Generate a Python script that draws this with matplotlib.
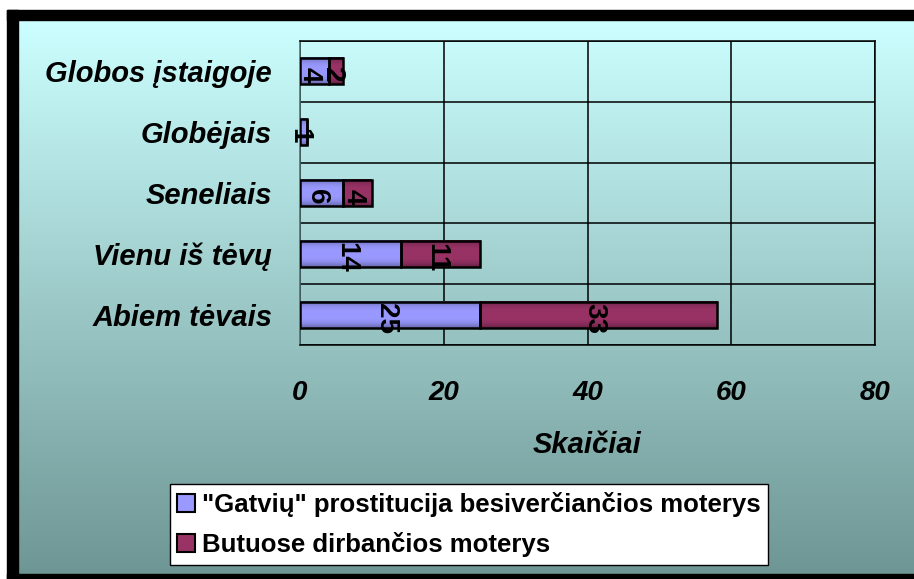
import numpy as np
import matplotlib
matplotlib.use("Agg")
import matplotlib.pyplot as plt
from matplotlib.colors import to_rgb
from matplotlib.patches import Rectangle

plt.rcParams["font.family"] = ["Liberation Sans", "DejaVu Sans"]

categories = ["Abiem tėvais", "Vienu iš tėvų", "Seneliais", "Globėjais", "Globos įstaigoje"]
street = [25, 14, 6, 1, 4]
brothel = [33, 11, 4, 0, 2]
series_names = ['"Gatvių" prostitucija besiverčiančios moterys', "Butuose dirbančios moterys"]
xticks = [0, 20, 40, 60, 80]
xlabel = "Skaičiai"

BLUE, MAROON = "#9999FF", "#993366"
TOP, BOTTOM = np.array([204, 255, 255]) / 255, np.array([110, 150, 148]) / 255
FS = 20

W, H = 914, 579
fig = plt.figure(figsize=(W / 100, H / 100), dpi=100)
fig.patch.set_facecolor("white")

# gradient background inside the black frame
bg = fig.add_axes([18 / W, (H - 574) / H, 1 - 18 / W, (574 - 20) / H])
t = np.linspace(0, 1, 256)[:, None, None]
grad = TOP * (1 - t) + BOTTOM * t
bg.imshow(np.repeat(grad, 2, axis=1), aspect="auto", extent=[0, 1, 0, 1])
bg.set_axis_off()

# black frame (left, top, bottom)
for x0, y0, w, h in [(7, 10, 11, 569), (7, 10, W - 7, 10), (7, 574, W - 7, 5)]:
    fig.patches.append(Rectangle((x0 / W, 1 - (y0 + h) / H), w / W, h / H,
                                 transform=fig.transFigure, color="black", zorder=5))

ax = fig.add_axes([300 / W, 1 - 345 / H, 575 / W, 304 / H])
ax.patch.set_alpha(0)
y = np.arange(len(categories))
hgt = 0.43


def shaded_bars(lefts, widths, color):
    bars = ax.barh(y, widths, left=lefts, height=hgt, color="none", edgecolor="black",
                   linewidth=1.8, zorder=4)
    base = np.array(to_rgb(color))
    s = np.linspace(-1, 1, 64)[:, None, None]
    shade = base * (1 - 0.35 * np.abs(s) ** 3)
    for b in bars:
        if b.get_width() <= 0:
            continue
        x0, y0 = b.get_x(), b.get_y()
        ax.imshow(shade, aspect="auto", extent=[x0, x0 + b.get_width(), y0, y0 + b.get_height()],
                  zorder=3, interpolation="bilinear")
    return bars


shaded_bars(0, street, BLUE)
shaded_bars(street, brothel, MAROON)

# value labels, rotated like the original (they overlap on the tiny bars there too)
for i in range(len(categories)):
    for left, val in [(0, street[i]), (street[i], brothel[i])]:
        if val > 0:
            ax.text(left + val / 2 - 0.6, i - 0.06, str(val), rotation=270, ha="center", va="center",
                    fontsize=FS, fontweight="bold", zorder=5)

ax.set_xlim(0, 80)
ax.set_ylim(-0.5, len(categories) - 0.5)
ax.set_xticks(xticks)
ax.set_xticklabels([str(v) for v in xticks], fontsize=FS, fontweight="bold", style="italic")
ax.set_yticks(y)
ax.set_yticklabels(categories, fontsize=21, fontweight="bold", style="italic")
ax.set_yticks(np.arange(-0.5, len(categories), 1.0), minor=True)
ax.tick_params(axis="both", which="both", length=0)
ax.tick_params(axis="x", pad=25)
ax.tick_params(axis="y", pad=20)
ax.grid(axis="x", which="major", color="black", linewidth=1.1, zorder=1)
ax.grid(axis="y", which="minor", color="black", linewidth=1.1, zorder=1)
for s in ax.spines.values():
    s.set_linewidth(1.1)
ax.spines["left"].set_color("#4a6a6a")
ax.set_xlabel(xlabel, fontsize=21, fontweight="bold", style="italic", labelpad=18)

handles = [Rectangle((0, 0), 1, 1, facecolor=c, edgecolor="black", linewidth=1.5) for c in (BLUE, MAROON)]
leg = fig.legend(handles, series_names, loc="center", bbox_to_anchor=(469 / W, 1 - 524.5 / H),
                 prop={"weight": "bold", "size": 18.5}, frameon=True, fancybox=False,
                 edgecolor="black", handlelength=0.7, handleheight=0.7, handletextpad=0.25,
                 labelspacing=0.6, borderpad=0.3, borderaxespad=0)
leg.get_frame().set_linewidth(1.0)
leg.get_frame().set_facecolor("white")
leg.get_frame().set_alpha(1)

fig.savefig("out.png", dpi=100)
